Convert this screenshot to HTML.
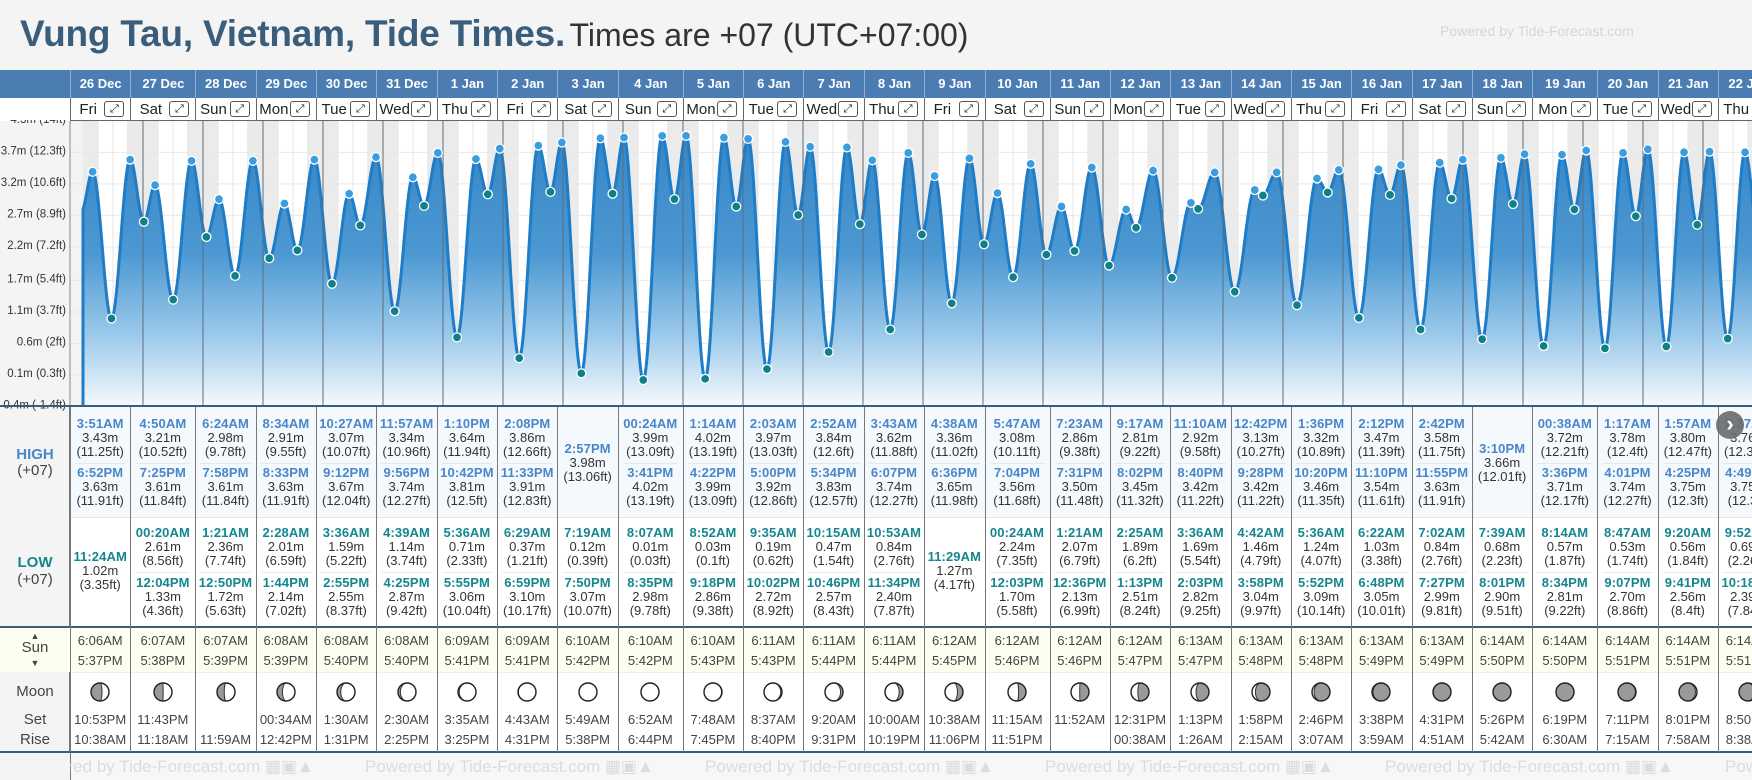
<!DOCTYPE html>
<html><head><meta charset="utf-8">
<style>
body{margin:0;width:1752px;height:780px;overflow:hidden;background:#f4f4f4;font-family:"Liberation Sans",sans-serif;position:relative;color:#333}
.a{position:absolute}
.c{position:absolute;text-align:center;white-space:nowrap;line-height:14px;font-size:13px}
.ht{color:#4a86c8;font-weight:bold;letter-spacing:0.1px}
.lt{color:#15868f;font-weight:bold;letter-spacing:0.1px}
.v{color:#333}
.lab{position:absolute;text-align:center;width:70px;left:0;font-size:15px;line-height:16px;color:#444}
</style></head><body>
<div class="a" style="left:20px;top:12px;white-space:nowrap;line-height:44px">
<span style="font-size:37px;font-weight:bold;color:#3b5d7c;letter-spacing:-0.2px">Vung Tau, Vietnam, Tide Times.</span>
<span style="font-size:32px;color:#333">Times are +07 (UTC+07:00)</span></div>
<div class="a" style="left:1440px;top:23px;font-size:14px;color:#d6d6d6">Powered by Tide-Forecast.com</div>
<div class="a" style="left:0;top:70px;width:70px;height:28px;background:#4b7db3"></div>
<div class="a" style="left:0;top:98px;width:70px;height:23px;background:#fff"></div>
<div class="a" style="left:0;top:406px;width:70px;height:346px;background:#f4f4f4;border-right:1px solid #777;box-sizing:border-box"></div>
<div class="a" style="left:70px;top:406px;width:1682px;height:111px;background:#f4f9fe"></div>
<div class="a" style="left:70px;top:517px;width:1682px;height:109px;background:#fff;border-top:1px solid #e4e4e4"></div>
<div class="a" style="left:0;top:626px;width:1752px;height:46px;background:#fdfdf0;border-top:2px solid #3b5d7c;box-sizing:border-box"></div>
<div class="a" style="left:70px;top:672px;width:1682px;height:80px;background:#fff;border-top:1px solid #eee"></div>
<div class="a" style="left:0;top:672px;width:70px;height:80px;background:#f4f4f4;border-right:1px solid #777;box-sizing:border-box"></div>
<div class="a" style="left:0;top:751px;width:1752px;height:2px;background:#3b5d7c"></div>
<div class="a" style="left:70px;top:753px;width:1682px;height:27px;background:#f7f7f7;border-left:1px solid #777"></div>
<div class="lab" style="top:447px;color:#4a86c8;font-weight:bold">HIGH</div>
<div class="lab" style="top:463px">(+07)</div>
<div class="lab" style="top:555px;color:#15868f;font-weight:bold">LOW</div>
<div class="lab" style="top:572px">(+07)</div>
<div class="lab" style="top:640px">Sun</div>
<div class="lab" style="top:628px;font-size:9px">▲</div>
<div class="lab" style="top:655px;font-size:9px">▼</div>
<div class="lab" style="top:684px">Moon</div>
<div class="lab" style="top:712px">Set</div>
<div class="lab" style="top:732px">Rise</div>
<svg id="chart" class="a" style="left:0;top:0" width="1752" height="780"></svg>
<div id="cells" class="a" style="left:0;top:0;width:1752px;height:780px;overflow:hidden"></div>
<div class="a" style="left:1716px;top:411px;width:28px;height:28px;border-radius:50%;background:rgba(105,105,105,0.9);color:#fff;font-size:22px;line-height:26px;text-align:center;font-weight:bold">›</div>
<script>
const dates=["26 Dec","27 Dec","28 Dec","29 Dec","30 Dec","31 Dec","1 Jan","2 Jan","3 Jan","4 Jan","5 Jan","6 Jan","7 Jan","8 Jan","9 Jan","10 Jan","11 Jan","12 Jan","13 Jan","14 Jan","15 Jan","16 Jan","17 Jan","18 Jan","19 Jan","20 Jan","21 Jan","22 Jan"];
const dayNames=["Fri","Sat","Sun","Mon","Tue","Wed","Thu","Fri","Sat","Sun","Mon","Tue","Wed","Thu","Fri","Sat","Sun","Mon","Tue","Wed","Thu","Fri","Sat","Sun","Mon","Tue","Wed","Thu"];
const highTimes=[["3:51AM","6:52PM"],["4:50AM","7:25PM"],["6:24AM","7:58PM"],["8:34AM","8:33PM"],["10:27AM","9:12PM"],["11:57AM","9:56PM"],["1:10PM","10:42PM"],["2:08PM","11:33PM"],["2:57PM"],["00:24AM","3:41PM"],["1:14AM","4:22PM"],["2:03AM","5:00PM"],["2:52AM","5:34PM"],["3:43AM","6:07PM"],["4:38AM","6:36PM"],["5:47AM","7:04PM"],["7:23AM","7:31PM"],["9:17AM","8:02PM"],["11:10AM","8:40PM"],["12:42PM","9:28PM"],["1:36PM","10:20PM"],["2:12PM","11:10PM"],["2:42PM","11:55PM"],["3:10PM"],["00:38AM","3:36PM"],["1:17AM","4:01PM"],["1:57AM","4:25PM"],["2:37AM","4:49PM"]];
const highHeights=[[3.43,3.63],[3.21,3.61],[2.98,3.61],[2.91,3.63],[3.07,3.67],[3.34,3.74],[3.64,3.81],[3.86,3.91],[3.98],[3.99,4.02],[4.02,3.99],[3.97,3.92],[3.84,3.83],[3.62,3.74],[3.36,3.65],[3.08,3.56],[2.86,3.50],[2.81,3.45],[2.92,3.42],[3.13,3.42],[3.32,3.46],[3.47,3.54],[3.58,3.63],[3.66],[3.72,3.71],[3.78,3.74],[3.80,3.75],[3.76,3.75]];
const highFeet=[["11.25","11.91"],["10.52","11.84"],["9.78","11.84"],["9.55","11.91"],["10.07","12.04"],["10.96","12.27"],["11.94","12.5"],["12.66","12.83"],["13.06"],["13.09","13.19"],["13.19","13.09"],["13.03","12.86"],["12.6","12.57"],["11.88","12.27"],["11.02","11.98"],["10.11","11.68"],["9.38","11.48"],["9.22","11.32"],["9.58","11.22"],["10.27","11.22"],["10.89","11.35"],["11.39","11.61"],["11.75","11.91"],["12.01"],["12.21","12.17"],["12.4","12.27"],["12.47","12.3"],["12.34","12.3"]];
const lowTimes=[["11:24AM"],["00:20AM","12:04PM"],["1:21AM","12:50PM"],["2:28AM","1:44PM"],["3:36AM","2:55PM"],["4:39AM","4:25PM"],["5:36AM","5:55PM"],["6:29AM","6:59PM"],["7:19AM","7:50PM"],["8:07AM","8:35PM"],["8:52AM","9:18PM"],["9:35AM","10:02PM"],["10:15AM","10:46PM"],["10:53AM","11:34PM"],["11:29AM"],["00:24AM","12:03PM"],["1:21AM","12:36PM"],["2:25AM","1:13PM"],["3:36AM","2:03PM"],["4:42AM","3:58PM"],["5:36AM","5:52PM"],["6:22AM","6:48PM"],["7:02AM","7:27PM"],["7:39AM","8:01PM"],["8:14AM","8:34PM"],["8:47AM","9:07PM"],["9:20AM","9:41PM"],["9:52AM","10:18PM"]];
const lowHeights=[[1.02],[2.61,1.33],[2.36,1.72],[2.01,2.14],[1.59,2.55],[1.14,2.87],[0.71,3.06],[0.37,3.10],[0.12,3.07],[0.01,2.98],[0.03,2.86],[0.19,2.72],[0.47,2.57],[0.84,2.40],[1.27],[2.24,1.70],[2.07,2.13],[1.89,2.51],[1.69,2.82],[1.46,3.04],[1.24,3.09],[1.03,3.05],[0.84,2.99],[0.68,2.90],[0.57,2.81],[0.53,2.70],[0.56,2.56],[0.69,2.39]];
const lowFeet=[["3.35"],["8.56","4.36"],["7.74","5.63"],["6.59","7.02"],["5.22","8.37"],["3.74","9.42"],["2.33","10.04"],["1.21","10.17"],["0.39","10.07"],["0.03","9.78"],["0.1","9.38"],["0.62","8.92"],["1.54","8.43"],["2.76","7.87"],["4.17"],["7.35","5.58"],["6.79","6.99"],["6.2","8.24"],["5.54","9.25"],["4.79","9.97"],["4.07","10.14"],["3.38","10.01"],["2.76","9.81"],["2.23","9.51"],["1.87","9.22"],["1.74","8.86"],["1.84","8.4"],["2.26","7.84"]];
const sunrise=["6:06AM","6:07AM","6:07AM","6:08AM","6:08AM","6:08AM","6:09AM","6:09AM","6:10AM","6:10AM","6:10AM","6:11AM","6:11AM","6:11AM","6:12AM","6:12AM","6:12AM","6:12AM","6:13AM","6:13AM","6:13AM","6:13AM","6:13AM","6:14AM","6:14AM","6:14AM","6:14AM","6:14AM"];
const sunset=["5:37PM","5:38PM","5:39PM","5:39PM","5:40PM","5:40PM","5:41PM","5:41PM","5:42PM","5:42PM","5:43PM","5:43PM","5:44PM","5:44PM","5:45PM","5:46PM","5:46PM","5:47PM","5:47PM","5:48PM","5:48PM","5:49PM","5:49PM","5:50PM","5:50PM","5:51PM","5:51PM","5:51PM"];
const moonSet=["10:53PM","11:43PM","","00:34AM","1:30AM","2:30AM","3:35AM","4:43AM","5:49AM","6:52AM","7:48AM","8:37AM","9:20AM","10:00AM","10:38AM","11:15AM","11:52AM","12:31PM","1:13PM","1:58PM","2:46PM","3:38PM","4:31PM","5:26PM","6:19PM","7:11PM","8:01PM","8:50PM"];
const moonRise=["10:38AM","11:18AM","11:59AM","12:42PM","1:31PM","2:25PM","3:25PM","4:31PM","5:38PM","6:44PM","7:45PM","8:40PM","9:31PM","10:19PM","11:06PM","11:51PM","","00:38AM","1:26AM","2:15AM","3:07AM","3:59AM","4:51AM","5:42AM","6:30AM","7:15AM","7:58AM","8:38AM"];
const axisFt=[14,12.3,10.6,8.9,7.2,5.4,3.7,2,0.3,-1.4];
const axisM=["4.3m","3.7m","3.2m","2.7m","2.2m","1.7m","1.1m","0.6m","0.1m","-0.4m"];
const priorLow=[-0.03,2.78];

const NS="http://www.w3.org/2000/svg";
const svg=document.getElementById('chart');
const cells=document.getElementById('cells');
function parseT(s){const m=s.match(/(\d+):(\d+)(AM|PM)/);let h=+m[1];if(m[3]=='PM'&&h!=12)h+=12;if(m[3]=='AM'&&h==12)h=0;return (h*60+ +m[2])/1440;}
const X0=83,DAY=60,CT=121,CB=405;
function xT(t){return X0+DAY*t;}
function yH(h){return 405-(h+0.4)*60.9;}
function mk(tag,attrs,parent){const e=document.createElementNS(NS,tag);for(const k in attrs)e.setAttribute(k,attrs[k]);(parent||svg).appendChild(e);return e;}

const colX=[],colW=[];
let cx=70;
const isWide=dates.map((d,i)=>highTimes[i].concat(lowTimes[i]).some(s=>s.startsWith("00:")));
const nW=isWide.slice(0,27).filter(Boolean).length;
const normW=(1648-nW*65)/(27-nW);
for(let i=0;i<dates.length;i++){colX.push(cx);colW.push(isWide[i]?65:normW);cx+=colW[i];}

const defs=mk('defs',{});
const cp=mk('clipPath',{id:'cp'},defs);mk('rect',{x:70,y:CT,width:1682,height:CB-CT},cp);
const lg=mk('linearGradient',{id:'fg',x1:0,y1:130,x2:0,y2:405,gradientUnits:'userSpaceOnUse'},defs);
mk('stop',{offset:'0',"stop-color":'#3585c6'},lg);mk('stop',{offset:'0.45',"stop-color":'#4c98d2'},lg);mk('stop',{offset:'0.75',"stop-color":'#9ccaea'},lg);mk('stop',{offset:'1',"stop-color":'#f4f9fd'},lg);

const g=mk('g',{"clip-path":'url(#cp)'});

const bg=mk('rect',{x:70,y:CT,width:1682,height:CB-CT,fill:'#fff'},g);

const lm=mk('rect',{x:70,y:CT,width:13,height:CB-CT,fill:'#f3f3f3'},g);

for(let i=0;i<dates.length;i++){
  const s=i+parseT(sunset[i]);const r=(i+1<dates.length)?i+1+parseT(sunrise[i+1]):i+1.26;
  const nb=mk('rect',{x:xT(s),y:CT,width:xT(r)-xT(s),height:CB-CT,fill:'#ebebeb'},g);
  
}
const nb0=mk('rect',{x:xT(0),y:CT,width:xT(parseT(sunrise[0]))-xT(0),height:CB-CT,fill:'#ebebeb'},g);

for(let k=0;k<axisFt.length;k++){const y=yH(axisFt[k]/3.2808);
  const gl=mk('line',{x1:70,x2:1752,y1:y,y2:y,stroke:'#e9e9e9','stroke-width':1},g);
  }
for(let q=0;q<dates.length*4;q++){if(q%4==0)continue;const x=xT(q/4);
  const vl=mk('line',{x1:x,x2:x,y1:CT,y2:CB,stroke:'#e6e6e6','stroke-width':1},g);
  }
const ev=[{t:priorLow[0],h:priorLow[1],k:'p'}];
for(let i=0;i<dates.length;i++){
  highTimes[i].forEach((s,j)=>ev.push({t:i+parseT(s),h:highHeights[i][j],k:'h'}));
  lowTimes[i].forEach((s,j)=>ev.push({t:i+parseT(s),h:lowHeights[i][j],k:'l'}));
}
ev.sort((a,b)=>a.t-b.t);
function tideAt(t){for(let k=0;k<ev.length-1;k++){const a=ev[k],b=ev[k+1];if(t>=a.t&&t<=b.t){const f=(t-a.t)/(b.t-a.t);return a.h+(b.h-a.h)*(1-Math.cos(Math.PI*f))/2;}}return ev[ev.length-1].h;}
let pts=[];const tEnd=ev[ev.length-1].t;
for(let t=0;t<=tEnd;t+=1/240){pts.push(xT(t).toFixed(1)+','+yH(tideAt(t)).toFixed(1));}
const area=mk('path',{d:'M'+xT(0)+','+CB+' L'+pts.join(' L')+' L'+xT(tEnd)+','+CB+' Z',fill:'url(#fg)'},g);

const line=mk('path',{d:'M'+xT(0)+','+CB+' L'+pts.join(' L'),fill:'none',stroke:'#1f7cc6','stroke-width':3,'stroke-linejoin':'round'},g);

for(let i=1;i<dates.length;i++){const x=xT(i);
  const ml=mk('line',{x1:x,x2:x,y1:CT,y2:CB,stroke:'#5d6c7b','stroke-width':1},g);
  }
ev.forEach(e=>{if(e.k=='p')return;
  const d=mk('circle',{cx:xT(e.t),cy:yH(e.h),r:4.5,fill:e.k=='h'?'#3a9de0':'#0f8088',stroke:'#fff','stroke-width':1.3},g);
  });
const axl=mk('line',{x1:70,x2:70,y1:CT,y2:CB,stroke:'#888','stroke-width':1});

const bl=mk('rect',{x:0,y:405,width:1752,height:2,fill:'#3b5d7c'});

for(let k=0;k<axisFt.length;k++){const y=yH(axisFt[k]/3.2808)-2;if(y<114)continue;
  const tx=mk('text',{x:66,y:y+4,'text-anchor':'end','font-size':11.5,fill:'#333','font-family':'Liberation Sans, sans-serif'});
  tx.textContent=axisM[k]+' ('+axisFt[k]+'ft)';
  }
const clipTop=mk('rect',{x:0,y:108,width:70,height:12,fill:'#fff'});


function div(x,y,w,h,style){const d=document.createElement('div');d.className='a';d.style.cssText='left:'+x+'px;top:'+y+'px;width:'+w+'px;height:'+h+'px;'+(style||'');cells.appendChild(d);return d;}
function txt(x,y,w,s,cls,extra){const d=document.createElement('div');d.className='c '+(cls||'');d.style.left=x+'px';d.style.top=(y-7)+'px';d.style.width=w+'px';if(extra)d.style.cssText+=extra;d.textContent=s;cells.appendChild(d);return d;}
function moonSvg(x,y,p){const s=document.createElementNS(NS,'svg');s.setAttribute('width',22);s.setAttribute('height',22);s.style.cssText='position:absolute;left:'+(x-11)+'px;top:'+(y-11)+'px';
  const r=9,c=11;const circ=document.createElementNS(NS,'circle');circ.setAttribute('cx',c);circ.setAttribute('cy',c);circ.setAttribute('r',r);circ.setAttribute('fill','#9a9a9a');s.appendChild(circ);
  const rx=Math.abs(Math.cos(2*Math.PI*p))*r;let d;
  if(p<0.5){d='M'+c+','+(c-r)+' A'+r+','+r+' 0 0 1 '+c+','+(c+r)+' A'+rx+','+r+' 0 0 '+(p<0.25?0:1)+' '+c+','+(c-r)+'Z';}
  else{d='M'+c+','+(c-r)+' A'+r+','+r+' 0 0 0 '+c+','+(c+r)+' A'+rx+','+r+' 0 0 '+(p>0.75?1:0)+' '+c+','+(c-r)+'Z';}
  const lit=document.createElementNS(NS,'path');lit.setAttribute('d',d);lit.setAttribute('fill','#fff');lit.setAttribute('stroke','#333');lit.setAttribute('stroke-width','1');s.appendChild(lit);
  const o=document.createElementNS(NS,'circle');o.setAttribute('cx',c);o.setAttribute('cy',c);o.setAttribute('r',r);o.setAttribute('fill','none');o.setAttribute('stroke','#222');o.setAttribute('stroke-width','1.4');s.appendChild(o);
  cells.appendChild(s);return s;}
for(let i=0;i<dates.length;i++){
  const x=colX[i],w=colW[i],m=x+w/2;
  const hd=div(x,70,w,28,'background:#4b7db3;border-left:1px solid #8fb0d2;box-sizing:border-box;color:#fff;font-weight:bold;font-size:13px;line-height:28px;text-align:center;white-space:nowrap;overflow:hidden');
  hd.textContent=dates[i];
  
  
  const dr=div(x,98,w,23,'background:#fff;border-left:1px solid #666;border-bottom:1px solid #666;box-sizing:border-box');
  
  
  const dn=txt(x+3,110,w-30,dayNames[i],'','font-size:15px;color:#222;text-align:center');
  
  
  const eb=div(x+w-26,101,20,16,'border:1px solid #555;border-radius:3px;box-sizing:border-box;background:#fff;font-size:11px;line-height:14px;text-align:center;color:#222;font-family:DejaVu Sans,sans-serif');
  eb.textContent='⤢';
  
  
  const sep=div(x,406,1,346,'background:#777');
  
  
  const H=highTimes[i];
  const hy=H.length==2?[424,473]:[449];
  H.forEach((s,j)=>{const y=hy[j];
    const a=txt(x,y,w,s,'ht');
    const b=txt(x,y+14,w,highHeights[i][j].toFixed(2)+'m','v');
    const c=txt(x,y+28,w,'('+highFeet[i][j]+'ft)','v');});
  if(H.length==2){const dl=div(x+5,463,w-10,1,'background:#e3e8ee');}
  const L=lowTimes[i];
  const ly=L.length==2?[533,583]:[557];
  L.forEach((s,j)=>{const y=ly[j];
    const a=txt(x,y,w,s,'lt');
    const b=txt(x,y+14,w,lowHeights[i][j].toFixed(2)+'m','v');
    const c=txt(x,y+28,w,'('+lowFeet[i][j]+'ft)','v');});
  if(L.length==2){const dl=div(x+5,572,w-10,1,'background:#ececec');}
  const sr=txt(x,641,w,sunrise[i],'','font-size:13px;color:#444');
  const ss=txt(x,661,w,sunset[i],'','font-size:13px;color:#444');
  const mo=moonSvg(m,692,((i+6.3)/29.53)%1);
  
  
  const ms=txt(x,720,w,moonSet[i],'','font-size:13px;color:#444');
  const mr=txt(x,740,w,moonRise[i],'','font-size:13px;color:#444');
}
const tb=div(0,405,1752,2,'background:#3b5d7c');


for(let k=0;k<5;k++){
  const f=div(25+340*k,755,330,24,'color:#dcdcdc;font-size:17px;line-height:24px;white-space:nowrap;overflow:hidden;clip-path:inset(0 0 0 '+(k==0?45:0)+'px)');
  f.textContent='Powered by Tide-Forecast.com ▦▣▲';
  
  
}
const fl=div(1725,755,27,24,'color:#dcdcdc;font-size:17px;line-height:24px;white-space:nowrap;overflow:hidden');
fl.textContent='Powered';


</script>
</body></html>
